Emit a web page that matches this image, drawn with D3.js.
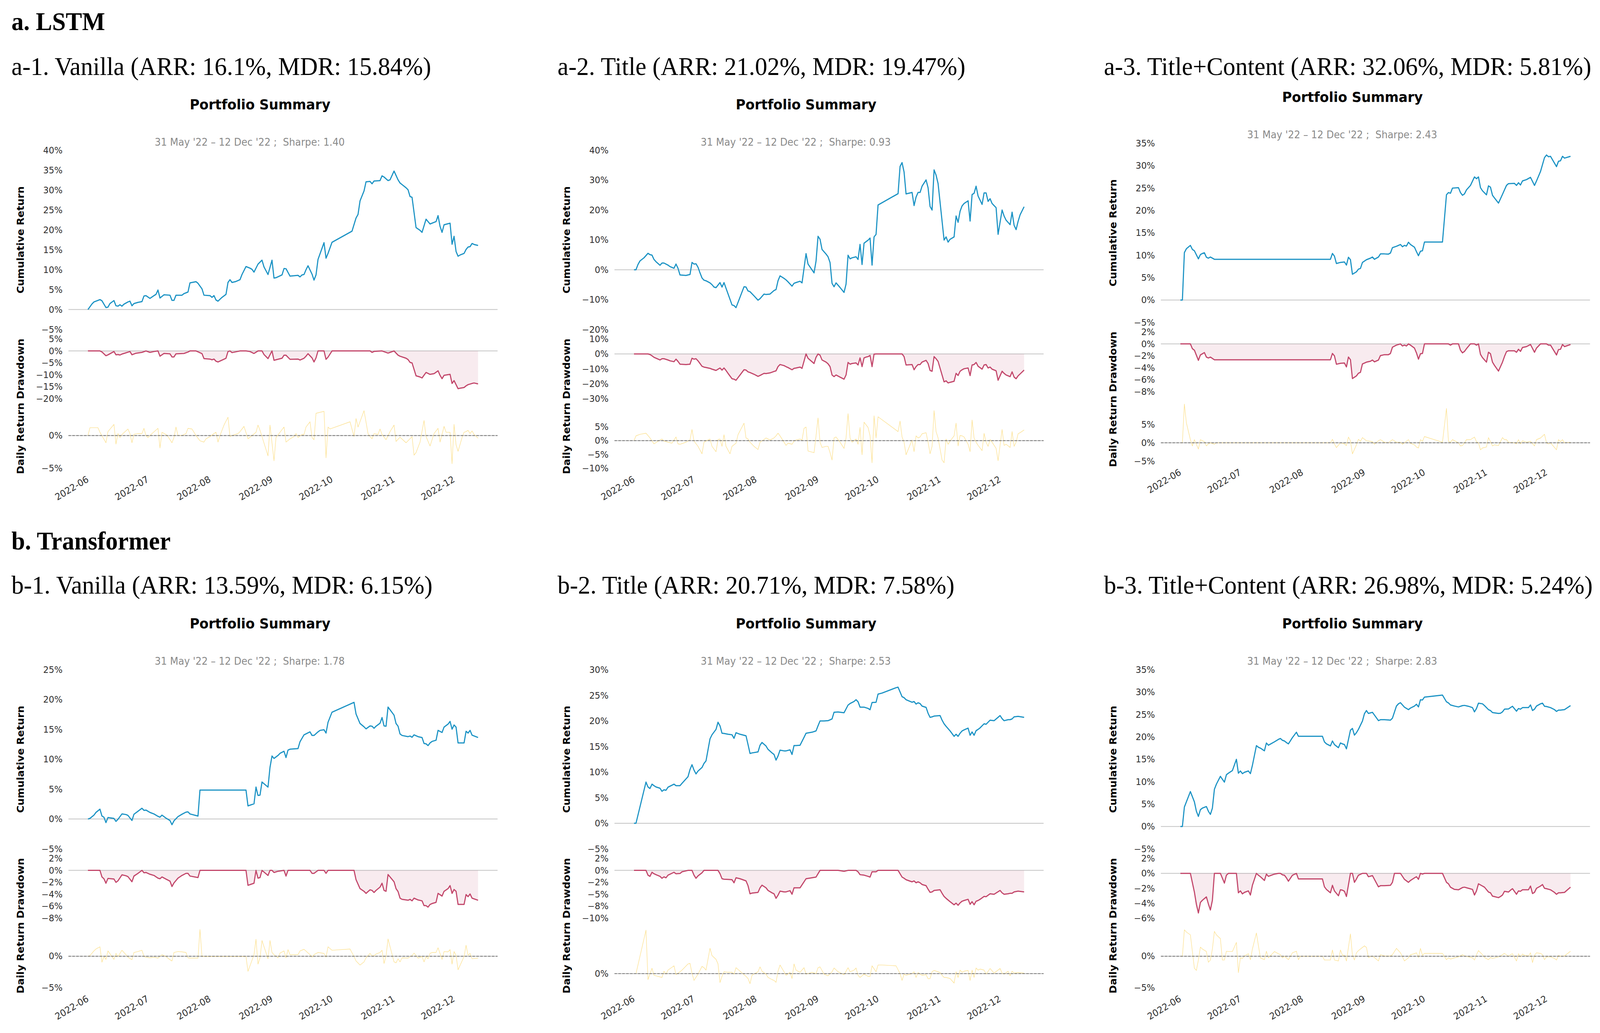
<!DOCTYPE html>
<html><head><meta charset="utf-8">
<script src="https://cdn.jsdelivr.net/npm/d3@7"></script>
<style>html,body{margin:0;padding:0;background:#fff;overflow:hidden}svg{display:block;width:100vw;height:100vh}text{white-space:pre}</style>
</head><body>
<svg id="c" viewBox="0 0 4325 2645" preserveAspectRatio="none"></svg>
<script>
// ---------------- DATA ----------------
const sectionTitles = ["a. LSTM", "b. Transformer"];
const panelTitles = [
  "a-1. Vanilla (ARR: 16.1%, MDR: 15.84%)",
  "a-2. Title (ARR: 21.02%, MDR: 19.47%)",
  "a-3. Title+Content (ARR: 32.06%, MDR: 5.81%)",
  "b-1. Vanilla (ARR: 13.59%, MDR: 6.15%)",
  "b-2. Title (ARR: 20.71%, MDR: 7.58%)",
  "b-3. Title+Content (ARR: 26.98%, MDR: 5.24%)"
];
const sharpes = ["1.40", "0.93", "2.43", "1.78", "2.53", "2.83"];
const startLabel = "31 May '22", endLabel = "12 Dec '22";
const monthTicks = ["2022-06-01","2022-07-01","2022-08-01","2022-09-01","2022-10-01","2022-11-01","2022-12-01"];

const cumTickVals = [[40,35,30,25,20,15,10,5,0,-5],[40,30,20,10,0,-10,-20],[35,30,25,20,15,10,5,0,-5],[25,20,15,10,5,0,-5],[30,25,20,15,10,5,0,-5],[35,30,25,20,15,10,5,0,-5]];
const cumTickLabels = [
  ["40%","35%","30%","25%","20%","15%","10%","5%","0%","−5%"],
  ["40%","30%","20%","10%","0%","−10%","−20%"],
  ["35%","30%","25%","20%","15%","10%","5%","0%","−5%"],
  ["25%","20%","15%","10%","5%","0%","−5%"],
  ["30%","25%","20%","15%","10%","5%","0%","−5%"],
  ["35%","30%","25%","20%","15%","10%","5%","0%","−5%"]];
const ddTickVals = [[5,0,-5,-10,-15,-20],[10,0,-10,-20,-30],[2,0,-2,-4,-6,-8],[2,0,-2,-4,-6,-8],[2.5,0,-2.5,-5,-7.5,-10],[2,0,-2,-4,-6]];
const ddTickLabels = [
  ["5%","0%","−5%","−10%","−15%","−20%"],
  ["10%","0%","−10%","−20%","−30%"],
  ["2%","0%","−2%","−4%","−6%","−8%"],
  ["2%","0%","−2%","−4%","−6%","−8%"],
  ["2%","0%","−2%","−5%","−8%","−10%"],
  ["2%","0%","−2%","−4%","−6%"]];
const dailyTickVals = [[0,-5],[5,0,-5,-10],[5,0,-5],[0,-5],[0],[0,-5]];
const dailyTickLabels = [["0%","−5%"],["5%","0%","−5%","−10%"],["5%","0%","−5%"],["0%","−5%"],["0%"],["0%","−5%"]];
const cumDomains = [[40,-5],[40,-20],[35,-5],[25,-5],[30,-5],[35,-5]];
const ddDomains = [[5,-20],[10,-30],[2,-8],[2,-8],[2.5,-10],[2,-6]];
const dailyDomains = [[4.13,-5],[11.66,-10],[11.2,-5],[4.5,-5],[8.46,-2.6],[4.5,-5]];

// series: [trading day offset from 31 May 2022, value %]
const a1Cum = [[0,0],[2,1.4],[3,1.9],[6,2.5],[7,2.2],[9,0.5],[10,0.6],[11,1.5],[13,2.25],[14,0.95],[15,0.85],[16,1.2],[17,0.85],[18,1.35],[20,1.9],[21,2.1],[22,0.95],[23,1.5],[25,1.8],[27,2.0],[28,3.4],[29,3.5],[31,2.8],[33,3.5],[34,3.8],[35,4.9],[36,2.9],[38,3.7],[41,3.6],[42,2.3],[43,2.3],[44,3.6],[47,3.6],[48,4.0],[50,4.4],[51,6.7],[54,7.0],[55,6.6],[57,5.2],[58,3.6],[61,3.5],[62,3.05],[63,3.5],[64,2.4],[65,2.1],[67,3.05],[69,3.8],[70,6.8],[71,7.5],[72,6.8],[74,7.05],[76,7.5],[77,8.8],[79,10.8],[81,10.4],[82,10.1],[83,9.4],[85,11.4],[87,12.4],[88,10.7],[90,8.8],[92,12.4],[93,7.9],[94,8.0],[97,8.7],[98,10.3],[99,10.25],[101,8.4],[103,8.5],[105,8.6],[106,8.2],[107,8.7],[108,8.8],[109,10.0],[110,11.0],[112,8.9],[113,7.4],[114,8.7],[115,12.6],[118,16.8],[119,12.9],[120,14.1],[122,16.9],[132,19.7],[134,23.0],[135,23.9],[136,27.3],[138,29.8],[139,32.1],[141,32.2],[142,31.6],[143,32.3],[146,32.4],[147,33.6],[148,33.3],[150,32.4],[151,32.6],[153,34.8],[155,32.6],[156,31.8],[157,31.4],[159,30.6],[160,30.1],[161,28.4],[162,28.2],[164,20.6],[166,19.9],[167,19.4],[169,22.7],[171,21.5],[173,21.9],[174,22.1],[175,23.6],[176,20.9],[177,19.4],[178,21.3],[181,21.7],[182,16.4],[183,18.4],[184,14.6],[185,13.4],[186,13.7],[188,14.1],[189,15.1],[190,15.7],[191,15.8],[192,16.6],[193,16.35],[195,16.1]];
const a1Dd = [[0,0],[6,0],[7,-0.4],[9,-2.0],[10,-1.65],[13,-0.25],[14,-1.6],[15,-1.5],[16,-1.7],[17,-1.3],[18,-1.05],[21,-0.25],[22,-1.6],[24,-0.95],[27,-0.6],[29,0],[31,-0.6],[33,-0.25],[35,0],[36,-2.2],[38,-1.05],[41,-1.2],[42,-2.5],[43,-2.5],[44,-1.2],[48,-1.05],[50,-0.45],[51,0],[54,0],[57,-1.1],[58,-3.2],[61,-3.4],[62,-3.7],[63,-3.4],[64,-4.3],[65,-4.6],[69,-3.05],[70,-0.25],[71,0],[72,-0.7],[76,0],[79,0],[81,-0.25],[83,-1.05],[85,0],[87,0],[88,-1.5],[90,-3.2],[92,0],[93,-3.9],[97,-3.05],[98,-1.8],[99,-1.8],[101,-3.5],[105,-3.4],[106,-3.8],[108,-3.05],[109,-2.2],[110,-1.15],[112,-2.9],[113,-4.6],[114,-2.9],[115,0],[118,0],[119,-3.5],[120,-2.6],[122,0],[141,0],[142,-0.6],[143,-0.2],[147,0],[150,-0.9],[151,-0.6],[153,0],[155,-1.75],[156,-2.2],[159,-3.05],[160,-3.6],[161,-4.8],[162,-5.0],[164,-10.4],[166,-10.9],[167,-11.3],[169,-9.0],[171,-9.8],[173,-9.5],[175,-8.3],[176,-10.2],[177,-11.6],[178,-10.2],[181,-9.8],[182,-13.6],[183,-12.4],[185,-15.8],[186,-15.6],[188,-15.3],[189,-14.6],[190,-14.1],[192,-13.6],[193,-13.4],[195,-13.8]];
const a1Daily = [[0,0],[1,1.2],[5,1.2],[6,0.5],[9,-1.1],[10,0.6],[13,1.7],[14,-1.3],[15,0.3],[16,-0.3],[17,0.16],[20,1.0],[21,0.3],[22,-1.1],[23,0.2],[25,0.3],[27,0.3],[28,1.1],[29,0],[30,-0.3],[32,0.3],[35,1.1],[36,-1.9],[37,0.5],[39,0.16],[40,-0.16],[42,-1.1],[43,-0.3],[44,1.3],[45,0],[47,0],[49,0.3],[50,1.1],[52,1.0],[54,0],[56,-0.8],[58,-1.0],[59,-0.5],[61,-0.16],[63,0.3],[64,0.5],[65,-1.0],[66,0],[68,1.6],[70,2.8],[71,-0.16],[72,0],[75,0.3],[76,0.6],[77,1.0],[78,1.4],[80,-0.5],[82,0],[84,0.5],[85,1.6],[86,0.8],[87,-0.16],[90,-3.1],[91,1.6],[93,-3.85],[94,-0.3],[96,0.5],[98,1.3],[99,-1.0],[101,-0.5],[103,-0.16],[104,0.3],[105,-0.3],[107,0.16],[108,0.16],[109,1.3],[111,2.1],[112,-0.3],[113,-0.64],[114,3.4],[118,3.7],[119,-3.4],[120,1.3],[121,1.0],[131,2.1],[133,-0.16],[134,2.6],[135,1.3],[138,3.8],[140,0.3],[141,-0.16],[142,-0.5],[143,0.3],[145,0.16],[146,1.0],[147,0.16],[149,-0.64],[151,0.6],[153,1.6],[154,-0.9],[156,-0.26],[159,-1.1],[162,-0.16],[163,-3.0],[164,-2.6],[166,-1.0],[168,2.3],[169,-0.16],[171,-1.6],[173,0.3],[175,1.1],[176,-1.0],[178,1.4],[179,0.5],[181,0.5],[182,-4.3],[183,1.7],[184,-1.4],[185,-2.4],[187,-0.3],[188,0.5],[189,0.6],[190,0.8],[191,0.3],[192,0.7],[193,0.16],[195,-0.4]];

const a2Cum = [[0,0],[1,0],[2,1.75],[3,2.95],[5,4.0],[7,5.5],[8,5.05],[9,4.9],[10,3.45],[11,2.7],[13,1.5],[14,2.25],[15,2.25],[17,1.55],[18,1.05],[20,0.5],[21,1.9],[22,0.5],[23,-1.75],[26,-1.9],[27,-1.75],[28,-1.6],[29,2.45],[30,1.9],[31,2.0],[32,0.85],[33,-1.05],[34,-2.75],[35,-3.5],[36,-3.7],[38,-4.4],[39,-5.0],[40,-5.8],[41,-6.0],[43,-4.3],[44,-5.8],[45,-4.3],[46,-6.2],[47,-8.05],[49,-11.8],[50,-12.0],[51,-12.7],[53,-9.2],[55,-5.7],[56,-5.8],[57,-7.1],[58,-7.35],[60,-8.75],[62,-10.2],[63,-9.7],[65,-8.15],[66,-8.3],[68,-8.15],[70,-6.95],[71,-6.65],[72,-3.7],[73,-2.05],[75,-2.9],[76,-3.4],[77,-4.05],[79,-5.5],[80,-4.55],[81,-4.3],[83,-3.85],[84,-4.4],[86,5.4],[87,1.9],[90,-1.05],[91,2.9],[92,11.2],[93,10.2],[94,6.8],[96,5.25],[97,4.35],[98,2.4],[99,-4.55],[100,-5.7],[101,-4.4],[103,-5.95],[105,-7.6],[106,-4.8],[107,4.85],[108,3.65],[109,4.0],[111,4.35],[112,3.45],[113,8.5],[114,1.75],[115,8.9],[116,9.4],[117,9.9],[118,10.6],[119,1.55],[120,11.0],[121,11.85],[122,21.7],[132,25.5],[133,34.6],[134,35.9],[135,32.75],[136,25.4],[139,25.9],[140,21.5],[141,24.35],[142,25.9],[143,25.9],[144,28.0],[146,30.1],[147,27.5],[148,21.2],[149,20.0],[150,33.45],[151,31.7],[152,28.9],[155,9.95],[156,11.0],[157,9.25],[158,10.2],[160,11.0],[161,18.0],[162,15.9],[163,19.6],[164,21.4],[165,22.2],[167,23.1],[168,16.3],[169,25.2],[170,25.6],[171,28.0],[172,24.7],[174,21.9],[175,25.75],[176,25.75],[177,22.9],[178,23.8],[179,22.2],[181,20.8],[182,11.85],[184,20.0],[185,18.0],[186,16.6],[188,15.1],[189,19.3],[190,14.9],[191,13.45],[192,16.2],[193,18.4],[195,21.1]];
const a2Dd = [[0,0],[7,0],[8,-0.4],[9,-1.25],[10,-2.25],[13,-4.05],[14,-3.2],[15,-3.2],[17,-4.05],[18,-4.6],[20,-5.2],[21,-3.5],[22,-5.0],[23,-6.85],[26,-7.1],[28,-6.85],[29,-2.9],[30,-3.5],[31,-3.2],[32,-4.6],[33,-6.4],[34,-8.25],[35,-8.8],[36,-9.1],[38,-9.65],[39,-10.2],[41,-11.05],[43,-9.4],[44,-10.8],[45,-9.4],[46,-11.05],[47,-13.0],[49,-16.6],[50,-16.9],[51,-17.6],[53,-14.1],[55,-10.6],[56,-10.8],[57,-12.0],[58,-12.45],[60,-13.6],[62,-15.0],[63,-14.4],[65,-13.0],[66,-13.15],[68,-12.7],[70,-11.75],[71,-11.3],[72,-8.5],[73,-7.1],[75,-7.8],[76,-8.5],[77,-9.1],[79,-10.6],[80,-9.65],[81,-9.4],[83,-8.8],[84,-9.65],[86,0],[87,-2.9],[90,-6.4],[91,-2.25],[92,0],[93,-0.85],[94,-4.05],[96,-5.45],[97,-6.6],[98,-8.5],[99,-14.1],[100,-15.2],[101,-14.1],[103,-15.5],[105,-16.9],[106,-14.1],[107,-5.7],[108,-6.85],[109,-6.4],[111,-6.0],[112,-7.4],[113,-2.65],[114,-8.5],[115,-2.65],[116,-2.1],[117,-1.8],[118,-1.0],[119,-8.5],[120,-0.15],[121,0],[134,0],[135,-1.8],[136,-7.4],[139,-7.1],[140,-10.6],[141,-8.5],[142,-7.1],[143,-7.1],[144,-5.45],[146,-4.3],[147,-6.4],[148,-11.05],[149,-11.6],[150,-1.8],[151,-3.2],[152,-5.0],[155,-18.7],[156,-18.0],[157,-19.4],[158,-19.0],[160,-18.3],[161,-13.0],[162,-14.4],[163,-11.6],[164,-10.6],[165,-9.9],[167,-9.4],[168,-14.5],[169,-7.4],[170,-7.1],[171,-5.7],[172,-8.25],[174,-10.2],[175,-7.4],[176,-7.1],[177,-9.4],[178,-8.8],[179,-10.2],[181,-11.3],[182,-17.6],[184,-11.6],[185,-13.0],[186,-14.1],[188,-15.2],[189,-12.0],[190,-15.5],[191,-16.6],[192,-14.7],[193,-13.4],[195,-10.8]];
const a2Daily = [[0,0],[1,1.75],[3,2.3],[6,2.7],[8,1.0],[10,-1.15],[13,0.25],[14,0.6],[15,-0.15],[17,-0.55],[19,-0.9],[21,1.35],[22,-1.15],[23,-1.3],[26,-0.55],[28,0.25],[29,4.05],[30,-0.15],[32,-2.05],[34,-4.75],[35,-0.55],[36,-0.15],[38,0.6],[39,-2.05],[41,-4.0],[42,0.4],[43,0.6],[44,-2.05],[45,2.15],[46,-2.05],[48,-4.75],[49,-2.05],[51,-0.9],[52,2.15],[55,6.35],[56,1.0],[57,0.6],[58,-0.55],[60,-2.05],[62,-3.2],[63,-0.55],[65,0.4],[66,1.0],[68,0.25],[70,1.0],[71,1.75],[72,2.7],[73,1.75],[75,-0.55],[76,-1.7],[77,-0.9],[79,-1.3],[80,-0.15],[81,0.25],[83,0.6],[84,0.25],[85,4.45],[86,4.95],[87,-3.75],[90,-4.35],[91,1.75],[92,8.25],[93,-0.55],[94,-2.45],[96,-2.05],[97,-2.05],[98,-4.35],[99,-7.0],[100,1.0],[101,1.35],[103,-0.55],[105,-2.8],[106,1.0],[107,9.8],[108,1.0],[109,-0.55],[111,0.6],[112,-1.3],[113,4.8],[114,-5.1],[115,6.7],[117,4.8],[118,1.75],[119,-8.0],[120,9.0],[121,1.0],[122,8.65],[132,3.3],[133,7.1],[134,1.35],[135,-0.55],[136,-5.1],[139,0.25],[140,-3.95],[141,1.75],[142,1.0],[143,1.35],[144,2.5],[146,2.9],[147,-0.55],[148,-4.75],[149,-2.05],[150,10.9],[151,3.3],[152,1.0],[154,-7.0],[155,-8.0],[156,0.6],[157,-1.3],[158,-0.15],[160,1.75],[161,6.35],[162,-1.9],[163,1.9],[164,1.75],[165,1.35],[167,-1.3],[168,-3.95],[169,7.5],[170,1.0],[171,-0.55],[172,-1.7],[174,-3.6],[175,2.65],[176,-0.55],[177,-2.05],[178,0.4],[179,-0.55],[181,-2.8],[182,-7.25],[184,4.05],[185,-1.7],[186,-1.3],[188,-2.45],[189,3.3],[190,-2.05],[191,-0.55],[192,2.5],[193,2.9],[195,3.9]];

const a3Cum = [[0,0],[1,0],[2,10.6],[3,11.45],[5,12.2],[6,11.3],[7,11.0],[9,9.2],[10,10.15],[11,10.4],[12,10.55],[13,9.55],[14,9.35],[15,9.6],[17,9.1],[75,9.1],[76,10.4],[77,9.8],[78,8.15],[80,8.4],[82,8.5],[83,7.8],[84,9.55],[85,9.0],[86,5.75],[88,6.3],[89,6.9],[90,7.05],[91,8.4],[93,9.0],[95,9.35],[96,9.6],[97,9.1],[99,9.6],[100,10.3],[102,10.3],[104,10.25],[105,10.5],[106,11.7],[108,12.0],[110,12.4],[111,11.9],[112,12.2],[113,12.05],[114,12.9],[115,12.4],[117,11.8],[118,10.8],[119,9.9],[120,10.9],[121,11.0],[122,12.95],[131,12.95],[133,23.5],[134,24.0],[135,23.85],[136,25.0],[139,25.1],[140,24.0],[141,23.4],[142,23.7],[143,24.6],[145,25.6],[147,27.5],[148,27.1],[149,27.5],[150,25.1],[151,24.4],[153,23.5],[154,25.5],[155,25.2],[156,23.4],[157,22.8],[159,21.65],[161,23.6],[162,24.6],[163,25.6],[164,26.0],[167,26.05],[168,25.6],[169,26.2],[170,25.7],[171,26.6],[173,26.9],[175,27.4],[177,25.6],[178,26.6],[180,28.7],[182,31.8],[183,32.4],[184,32.0],[185,32.1],[188,29.8],[189,31.0],[190,31.1],[191,32.1],[192,31.7],[195,32.1]];
const a3Dd = [[0,0],[5,0],[6,-0.8],[7,-1.05],[9,-2.75],[10,-1.85],[11,-1.65],[12,-1.45],[13,-2.2],[14,-2.35],[15,-2.2],[17,-2.65],[75,-2.65],[76,-1.6],[77,-2.0],[78,-3.4],[80,-3.25],[82,-3.2],[83,-3.85],[84,-2.2],[85,-2.65],[86,-5.8],[88,-5.35],[89,-4.9],[90,-4.75],[91,-3.35],[93,-3.05],[95,-2.9],[96,-2.7],[97,-3.0],[99,-2.7],[100,-1.95],[102,-1.8],[104,-1.8],[105,-1.6],[106,-0.55],[108,-0.2],[110,0],[111,-0.35],[112,-0.2],[113,-0.35],[114,0],[115,-0.2],[117,-0.7],[118,-1.5],[119,-2.55],[120,-1.65],[121,-1.6],[122,0],[134,0],[135,-0.2],[136,0],[139,0],[140,-1.05],[141,-1.5],[142,-1.25],[143,-0.8],[145,0],[147,0],[148,-0.2],[149,0],[150,-1.75],[151,-2.3],[153,-3.05],[154,-1.4],[155,-1.65],[156,-3.05],[157,-3.6],[159,-4.55],[161,-3.05],[162,-2.1],[163,-1.3],[164,-1.15],[167,-1.15],[168,-1.4],[169,-0.9],[170,-1.25],[171,-0.6],[173,-0.45],[175,-0.1],[177,-1.4],[178,-0.7],[180,0],[183,0],[184,-0.2],[185,-0.2],[188,-1.85],[189,-0.95],[190,-0.9],[191,-0.1],[192,-0.45],[195,-0.1]];
const a3Daily = [[0,0],[1,0],[2,10.5],[3,5.4],[5,0.85],[6,-0.85],[7,0.85],[9,-1.7],[10,0.85],[11,0.55],[12,0.3],[13,-0.85],[14,-0.3],[15,0],[17,-0.4],[18,0],[75,0],[76,0.95],[77,-0.3],[78,-1.3],[80,0],[82,-0.3],[83,-0.75],[84,1.55],[85,0.55],[86,-3.0],[88,-0.55],[89,0.95],[90,0.4],[91,1.4],[93,0.55],[95,0.4],[96,0.3],[97,-0.4],[99,0.55],[100,0.85],[102,0.15],[104,0],[106,0.85],[108,0.15],[110,0.15],[111,-0.4],[112,0],[114,0.85],[115,-0.15],[117,-0.55],[118,-1.15],[119,-1.4],[120,0.85],[121,0.4],[122,1.7],[131,0.15],[133,9.3],[134,0.4],[135,0.15],[136,0.85],[139,0],[140,-0.85],[141,-0.75],[142,0],[143,0.85],[145,0.85],[147,1.55],[148,0.3],[149,0],[150,-1.9],[151,-1.4],[153,-1.15],[154,1.4],[155,0.3],[156,-0.85],[157,-0.55],[159,-0.75],[161,1.4],[162,0.85],[163,0.85],[164,0.15],[167,0],[168,-0.3],[169,0.85],[170,-0.3],[171,0.55],[173,0.15],[175,0.4],[177,-0.85],[178,0.85],[180,1.3],[182,2.3],[183,0],[184,-0.3],[185,0],[188,-1.9],[189,0.85],[190,0.3],[191,0.85],[192,0],[195,0.15]];

const b1Cum = [[0,0],[1,0.1],[3,0.65],[4,1.1],[6,1.65],[7,0.5],[8,0.3],[9,-0.6],[10,0.25],[13,0.1],[14,-0.4],[15,-0.05],[17,0.85],[19,0.75],[20,0.6],[22,-0.25],[23,0.8],[25,1.3],[27,1.8],[28,1.45],[29,1.5],[31,1.1],[33,0.85],[35,0.45],[36,0.3],[37,0.65],[39,0.15],[41,-0.25],[42,-0.95],[43,-0.3],[45,0.4],[47,0.8],[49,1.15],[50,1.2],[51,0.85],[55,0.5],[56,4.85],[79,4.85],[80,2.2],[83,2.55],[84,5.35],[85,3.95],[86,4.0],[87,6.2],[90,5.35],[91,8.65],[92,10.55],[93,10.15],[95,10.65],[96,11.0],[98,11.35],[99,10.3],[100,11.55],[101,11.7],[105,11.8],[106,12.95],[108,14.1],[111,14.6],[112,14.0],[113,14.0],[115,14.6],[116,14.85],[118,14.95],[119,14.4],[120,16.2],[122,17.9],[133,19.55],[134,17.6],[136,16.0],[138,15.45],[139,15.1],[141,15.6],[142,15.55],[143,15.2],[144,15.55],[146,16.05],[147,17.0],[148,15.6],[149,15.55],[150,18.75],[153,17.4],[154,16.0],[155,15.55],[156,14.25],[157,14.0],[160,13.8],[161,13.9],[162,13.7],[163,14.1],[165,13.8],[167,13.65],[168,12.65],[169,12.6],[170,12.3],[171,12.75],[172,13.0],[174,13.2],[175,14.85],[177,14.5],[178,15.4],[180,15.9],[181,16.35],[182,15.05],[183,15.75],[184,15.4],[185,12.75],[188,12.75],[189,14.7],[190,14.4],[191,14.85],[192,14.05],[195,13.65]];
const b1Dd = [[0,0],[6,0],[7,-1.1],[8,-1.4],[9,-2.15],[10,-1.35],[13,-1.45],[14,-2.0],[15,-1.75],[17,-0.75],[19,-0.9],[20,-1.05],[22,-1.9],[23,-0.95],[25,-0.5],[27,0],[28,-0.4],[29,-0.35],[31,-0.65],[33,-0.85],[35,-1.3],[36,-1.4],[37,-1.1],[39,-1.45],[41,-1.8],[42,-2.7],[43,-2.1],[45,-1.3],[47,-0.85],[49,-0.5],[50,-0.5],[51,-0.95],[55,-1.2],[56,0],[79,0],[80,-2.5],[83,-2.15],[84,0],[85,-1.3],[86,-1.2],[87,0],[90,-0.85],[91,0],[92,0],[93,-0.35],[95,-0.15],[98,0],[99,-0.95],[100,0],[111,0],[112,-0.5],[113,-0.5],[115,0],[118,0],[119,-0.5],[120,0],[133,0],[134,-1.55],[136,-3.05],[138,-3.5],[139,-3.85],[141,-3.25],[142,-3.35],[143,-3.7],[144,-3.35],[146,-2.8],[147,-2.15],[148,-3.35],[149,-3.5],[150,-0.7],[153,-1.9],[154,-3.05],[155,-3.55],[156,-4.65],[157,-4.85],[160,-5.0],[161,-4.85],[162,-5.1],[163,-4.65],[165,-4.95],[167,-5.1],[168,-5.9],[169,-5.9],[170,-6.15],[171,-5.7],[172,-5.55],[174,-5.35],[175,-3.85],[177,-4.3],[178,-3.5],[180,-3.05],[181,-2.55],[182,-3.85],[183,-3.2],[184,-3.5],[185,-5.7],[188,-5.7],[189,-4.05],[190,-4.4],[191,-3.95],[192,-4.65],[195,-5.0]];
const b1Daily = [[0,0],[1,0.1],[3,0.85],[4,1.15],[6,1.5],[7,-0.95],[8,-0.05],[9,-0.5],[10,0.85],[13,-0.5],[14,0.45],[15,-0.05],[17,0.95],[19,0.25],[20,-0.15],[22,-0.55],[23,0.6],[25,0.75],[27,0.95],[28,-0.05],[29,-0.15],[31,-0.25],[33,-0.15],[35,-0.3],[37,0.25],[39,-0.05],[41,-0.55],[42,-0.75],[43,0.6],[45,0.75],[47,0.7],[49,0.6],[50,-0.25],[51,-0.3],[55,-0.3],[56,4.25],[57,-0.05],[79,-0.05],[80,-2.4],[83,0.25],[84,2.7],[85,-1.25],[86,-0.25],[87,2.5],[90,-0.4],[91,2.5],[92,0.6],[93,0.25],[95,-0.25],[96,0.5],[98,0.85],[99,-0.25],[100,1.05],[101,0.25],[105,0.25],[106,0.85],[108,1.1],[111,0.25],[112,-0.15],[113,0.25],[115,0.6],[118,0.45],[119,-0.15],[120,1.5],[122,0.95],[131,1.15],[133,-0.05],[134,-0.75],[136,-1.4],[138,-0.9],[139,-0.25],[141,0.45],[142,0.05],[143,0.1],[144,0.35],[146,0.6],[147,0.95],[148,-1.15],[149,0.05],[150,2.75],[153,-0.9],[154,-1.05],[155,-0.4],[156,-0.9],[157,-0.25],[160,-0.3],[161,-0.05],[162,0.1],[163,0.5],[165,-0.3],[167,-0.05],[168,-0.9],[169,-0.05],[170,-0.4],[171,0.45],[172,0.6],[174,0.6],[175,1.35],[177,-0.5],[178,0.75],[180,0.7],[181,1.05],[182,-1.25],[183,0.75],[184,0.15],[185,-2.15],[188,-0.05],[189,1.75],[190,0.15],[191,0.45],[192,-0.4],[195,-0.3]];

const b2Cum = [[0,0],[1,0],[6,8.05],[7,7.1],[8,6.8],[9,7.65],[10,7.35],[11,7.1],[13,6.85],[14,6.25],[15,6.55],[16,6.45],[17,7.05],[20,7.65],[21,7.35],[23,7.35],[24,7.8],[27,9.1],[28,10.5],[29,11.45],[30,10.4],[31,9.65],[32,10.2],[34,10.9],[35,11.7],[36,12.2],[38,16.5],[39,17.3],[41,18.35],[42,19.75],[43,19.05],[44,17.6],[45,17.55],[47,17.4],[49,17.3],[50,16.6],[51,17.7],[53,17.4],[56,17.1],[57,15.4],[58,13.65],[59,13.75],[62,13.95],[63,15.25],[64,15.8],[66,15.1],[67,14.45],[69,13.75],[70,13.45],[71,12.35],[72,13.15],[73,14.3],[75,14.15],[76,14.15],[78,14.35],[79,13.45],[80,15.2],[81,15.2],[83,15.25],[85,16.8],[86,17.6],[89,17.8],[91,18.05],[92,19.05],[93,20.0],[95,20.0],[97,20.05],[99,20.4],[100,21.7],[102,21.75],[105,21.6],[107,23.1],[108,23.4],[110,23.8],[111,24.15],[112,23.75],[113,22.7],[115,22.7],[117,22.45],[118,22.2],[119,23.6],[121,23.65],[122,25.25],[124,25.45],[131,26.5],[132,26.6],[134,24.75],[135,24.55],[136,24.15],[139,23.65],[140,23.8],[141,23.3],[142,23.55],[143,23.4],[144,22.9],[146,22.65],[147,21.5],[148,20.7],[149,20.8],[150,20.95],[153,21.05],[154,20.15],[155,19.45],[156,18.95],[158,18.05],[160,17.0],[161,17.4],[162,17.0],[163,17.6],[164,18.05],[165,18.25],[167,18.6],[168,17.2],[169,17.85],[170,17.2],[171,18.1],[172,18.35],[173,18.65],[175,19.45],[176,19.35],[178,20.15],[180,20.05],[183,21.05],[184,20.45],[185,20.05],[187,20.25],[188,20.25],[189,20.4],[190,20.8],[192,20.9],[195,20.7]];
const b2Dd = [[0,0],[1,0],[6,0],[7,-1.0],[8,-1.25],[9,-0.4],[10,-0.7],[11,-0.9],[13,-1.25],[14,-1.65],[15,-1.35],[16,-1.55],[17,-1.0],[20,-0.4],[21,-0.7],[23,-0.65],[24,-0.3],[27,0],[29,0],[30,-1.0],[31,-1.65],[32,-1.15],[34,-0.5],[35,0],[42,0],[43,-0.7],[44,-1.75],[45,-1.85],[47,-1.9],[49,-1.95],[50,-2.6],[51,-1.55],[53,-1.75],[56,-2.2],[57,-3.2],[58,-4.9],[59,-4.75],[62,-4.6],[63,-3.65],[64,-3.1],[66,-3.65],[67,-4.2],[69,-4.7],[70,-4.9],[71,-5.85],[72,-5.2],[73,-4.35],[75,-4.5],[76,-4.5],[78,-4.25],[79,-5.0],[80,-3.65],[81,-3.65],[83,-3.65],[85,-2.4],[86,-1.75],[89,-1.55],[91,-1.4],[92,-0.7],[93,0],[99,0],[100,0],[102,0],[105,-0.2],[107,0],[111,0],[112,-0.3],[113,-0.9],[115,-1.0],[117,-1.25],[118,-1.4],[119,-0.3],[121,-0.3],[122,0],[132,0],[134,-1.4],[135,-1.65],[136,-1.95],[139,-2.4],[140,-2.2],[141,-2.6],[142,-2.4],[143,-2.6],[144,-2.95],[146,-3.2],[147,-3.95],[148,-4.6],[149,-4.5],[150,-4.2],[153,-4.05],[154,-4.8],[155,-5.45],[156,-5.85],[158,-6.55],[160,-7.2],[161,-6.85],[162,-7.3],[163,-6.8],[164,-6.45],[165,-6.3],[167,-6.05],[168,-7.1],[169,-6.55],[170,-7.2],[171,-6.45],[172,-6.3],[173,-6.05],[175,-5.45],[176,-5.5],[178,-4.9],[180,-5.0],[183,-4.2],[184,-4.7],[185,-5.0],[187,-4.9],[188,-4.8],[189,-4.8],[190,-4.5],[192,-4.35],[195,-4.5]];
const b2Daily = [[0,0],[1,0],[6,8.05],[7,-1.1],[9,1.0],[10,-0.3],[11,-0.4],[14,-0.7],[15,0.45],[16,-0.1],[17,0.65],[20,1.45],[21,-0.2],[23,0.35],[24,0.65],[27,1.8],[28,1.9],[29,0.1],[30,-1.25],[32,-0.1],[34,1.35],[35,1.1],[36,0.65],[38,4.7],[39,3.35],[41,2.65],[42,1.8],[43,-1.65],[44,-0.5],[45,0.35],[47,0.25],[49,0.25],[50,-0.1],[51,1.1],[53,0.45],[56,-0.5],[57,-0.9],[58,-1.85],[59,-0.3],[62,0.35],[63,1.25],[64,0.45],[66,-0.1],[67,-0.7],[69,-1.1],[70,-1.25],[71,-1.6],[72,0.45],[73,1.6],[75,0.35],[76,-0.3],[78,0.25],[79,-0.9],[80,1.8],[81,0.65],[83,0.25],[85,1.1],[86,-0.1],[89,0.25],[91,0],[92,1.1],[93,1.25],[95,-0.1],[97,-0.4],[99,0.35],[100,1.05],[102,0.35],[105,-0.2],[107,1.1],[108,0.35],[110,0.65],[111,1.05],[112,-0.3],[113,-0.7],[115,-0.1],[117,-0.5],[118,-0.5],[119,1.45],[121,0.35],[122,1.6],[124,1.6],[131,1.45],[133,0],[134,-1.25],[135,-0.1],[136,-0.3],[139,0],[140,0.35],[141,-0.7],[142,0.2],[143,-0.1],[144,-0.3],[146,-0.2],[147,-0.95],[148,-0.9],[149,0.35],[150,0.6],[153,0.2],[154,-0.3],[155,-0.7],[156,-0.7],[158,-0.9],[160,-1.75],[161,0.35],[162,-0.7],[163,0.65],[164,0.25],[165,0.45],[167,0.6],[168,-1.25],[169,0.65],[170,-0.7],[171,1.05],[172,0.65],[173,0.85],[175,0.65],[176,-0.1],[178,0.95],[180,0.1],[183,0.95],[184,0.1],[185,-0.1],[187,0.45],[188,-0.4],[189,0.45],[190,0.1],[192,0.2],[195,0.1]];

const b3Cum = [[0,0],[1,0],[2,4.35],[3,5.5],[4,6.65],[5,7.8],[7,5.5],[8,3.4],[9,2.25],[10,3.75],[11,4.1],[13,4.45],[14,3.4],[15,2.7],[16,4.1],[17,8.3],[18,9.45],[20,11.2],[22,9.9],[23,11.55],[24,11.9],[26,12.5],[28,15.0],[29,11.9],[30,12.4],[31,11.8],[32,12.1],[34,12.4],[35,11.8],[36,13.65],[38,18.05],[39,17.7],[40,17.5],[42,16.9],[43,18.65],[44,18.15],[47,18.9],[49,19.45],[50,19.65],[51,19.25],[52,19.1],[53,18.75],[54,18.45],[56,19.85],[58,21.05],[59,20.15],[71,20.15],[72,18.9],[73,18.45],[75,18.0],[76,19.1],[77,18.3],[79,17.6],[80,18.65],[81,18.45],[82,18.3],[83,17.35],[85,21.5],[86,21.9],[87,20.4],[88,20.95],[89,21.7],[91,23.55],[92,25.2],[93,25.9],[94,25.25],[96,25.5],[99,23.65],[100,23.85],[102,23.85],[105,23.75],[106,24.2],[108,26.9],[109,27.4],[110,27.65],[112,26.65],[114,26.1],[115,26.45],[117,26.9],[118,27.3],[119,26.7],[120,28.3],[121,28.25],[122,28.9],[131,29.35],[133,27.85],[134,27.6],[135,27.15],[137,26.9],[139,26.7],[141,27.0],[142,27.05],[144,26.85],[146,26.55],[147,25.6],[148,26.35],[149,27.55],[151,27.4],[152,27.0],[154,26.1],[155,25.9],[156,25.45],[159,25.25],[160,25.3],[161,25.6],[162,26.2],[164,26.25],[165,26.55],[166,26.85],[168,25.75],[169,26.35],[170,26.2],[171,26.55],[172,26.55],[174,26.55],[175,27.15],[176,25.9],[177,26.2],[178,26.9],[180,27.4],[181,27.55],[182,26.85],[183,26.8],[185,26.55],[187,26.1],[188,25.7],[189,26.0],[190,26.0],[192,26.1],[195,27.0]];
const b3Dd = [[0,0],[5,0],[7,-2.5],[8,-4.15],[9,-5.3],[10,-3.9],[11,-3.6],[13,-3.15],[14,-4.1],[15,-4.9],[16,-3.6],[17,0],[20,0],[21,-0.65],[22,-1.3],[23,-0.25],[24,0],[28,0],[29,-2.6],[30,-2.35],[31,-2.75],[32,-2.55],[34,-2.35],[35,-2.9],[36,-1.6],[38,0],[39,-0.25],[40,-0.45],[42,-0.95],[43,-0.1],[44,-0.4],[47,-0.1],[49,0],[50,0],[51,-0.2],[52,-0.25],[53,-0.6],[54,-1.05],[56,-0.25],[58,0],[59,-0.75],[71,-0.75],[72,-1.8],[73,-2.15],[75,-2.6],[76,-1.6],[77,-2.35],[79,-3.0],[80,-2.2],[81,-2.25],[82,-2.4],[83,-3.1],[85,0],[86,0],[87,-1.2],[88,-0.75],[89,-0.25],[91,0],[93,0],[94,-0.45],[96,-0.3],[99,-1.8],[100,-1.65],[102,-1.65],[105,-1.6],[106,-1.2],[107,0],[110,0],[112,-0.8],[114,-1.2],[115,-0.95],[117,-0.6],[118,-0.45],[119,-0.8],[120,0],[121,-0.1],[122,0],[131,0],[133,-1.2],[134,-1.4],[135,-1.85],[137,-2.15],[139,-2.2],[141,-1.9],[142,-1.85],[144,-2.0],[146,-2.15],[147,-2.9],[148,-2.35],[149,-1.4],[151,-1.7],[152,-1.85],[154,-2.5],[155,-2.6],[156,-3.05],[159,-3.25],[160,-3.1],[161,-2.9],[162,-2.4],[164,-2.5],[165,-2.25],[166,-2.05],[168,-2.8],[169,-2.35],[170,-2.4],[171,-2.2],[172,-2.2],[174,-2.2],[175,-1.7],[176,-2.7],[177,-2.55],[178,-2.0],[180,-1.7],[181,-1.5],[182,-2.0],[183,-2.05],[185,-2.2],[187,-2.55],[188,-2.8],[189,-2.6],[190,-2.6],[192,-2.55],[195,-1.85]];
const b3Daily = [[0,0],[1,0],[2,4.2],[3,3.85],[5,3.4],[7,-1.9],[8,-2.25],[9,-0.6],[10,1.45],[11,1.15],[13,0.75],[14,-0.95],[15,-0.6],[16,1.15],[17,3.95],[18,3.4],[20,2.8],[21,-0.6],[22,-0.6],[23,0.8],[24,0.75],[26,0.75],[28,2.2],[29,-2.6],[30,-0.25],[31,-0.35],[32,0.05],[34,0.4],[35,-0.55],[36,1.15],[38,3.7],[39,1.7],[40,-0.25],[42,-0.55],[43,0.8],[44,-0.25],[47,0.75],[49,0.4],[50,0.25],[51,-0.25],[52,0],[53,-0.25],[54,-0.55],[56,0.55],[58,0.8],[59,-0.55],[60,0],[71,0],[72,-0.6],[73,-0.6],[75,-0.6],[76,1.0],[77,-0.6],[79,-0.75],[80,1.0],[81,0.15],[82,0.15],[83,-0.75],[85,3.55],[86,0.15],[87,-0.6],[88,0.55],[89,0.9],[91,1.4],[92,1.65],[93,1.4],[94,-0.2],[96,0.05],[99,-0.75],[100,0.25],[102,0.05],[105,0.05],[106,0.25],[108,1.25],[109,0.9],[110,0.55],[112,-0.75],[114,-0.25],[115,0.25],[117,0.4],[118,0.55],[119,-0.2],[120,1.25],[121,0.15],[122,0.45],[131,0.45],[133,-0.55],[134,-0.25],[135,-0.45],[137,-0.25],[139,-0.1],[141,0.25],[142,0.05],[144,-0.1],[146,-0.25],[147,-0.6],[148,0.25],[149,0.9],[151,0.25],[152,-0.2],[154,-0.55],[155,-0.2],[156,-0.35],[159,-0.1],[160,0.05],[161,0.25],[162,0.45],[164,0],[165,0.25],[166,0.4],[168,-0.75],[169,0.4],[170,-0.1],[171,0.35],[172,0.15],[174,0.05],[175,0.55],[176,-1.0],[177,0.15],[178,0.55],[180,0.45],[181,0.25],[182,-0.55],[183,-0.1],[185,-0.1],[187,-0.35],[188,-0.6],[189,0.15],[190,0],[192,0.05],[195,0.8]];

const cumSeries = [a1Cum, a2Cum, a3Cum, b1Cum, b2Cum, b3Cum];
const ddSeries = [a1Dd, a2Dd, a3Dd, b1Dd, b2Dd, b3Dd];
const dailySeries = [a1Daily, a2Daily, a3Daily, b1Daily, b2Daily, b3Daily];

// ---------------- RENDER ----------------
const W = 4325, H = 2645;
const BASE = new Date(2022, 4, 31);
const toDate = d => d3.timeDay.offset(BASE, d);
const SANS = "'DejaVu Sans', Verdana, sans-serif";
const SERIF = "'Liberation Serif', 'Times New Roman', serif";
const C = { blue: "#1a92c4", red: "#c2466a", fill: "#c2466a", yellow: "#fbdc7e", silver: "#c4c4c4", dash: "#7a7a7a", tick: "#2e2e2e", sub: "#8a8a8a" };

const svg = d3.select("#c");
svg.append("rect").attr("width", W).attr("height", H).attr("fill", "#fff");

[[31, 77], [31, 1407]].forEach((p, i) => {
  svg.append("text").attr("x", p[0]).attr("y", p[1]).attr("font-family", SERIF)
    .attr("font-weight", "bold").attr("font-size", 66).attr("fill", "#000").text(sectionTitles[i]);
});

const colX = [0, 1476, 2953];
const titleX = [31, 1507, 2984];

panelTitles.forEach((title, i) => {
  const row = Math.floor(i / 3), col = i % 3;
  const dx = colX[col];
  const dyT = row ? 1328 : 0;
  const dyH = row ? 1329 : (col === 2 ? -19 : 0);
  const dyC = row ? 1330 : (col === 2 ? -18 : 0);
  const g = svg.append("g");

  g.append("text").attr("x", titleX[col]).attr("y", 192 + dyT).attr("font-family", SERIF)
    .attr("font-size", 66.5).attr("fill", "#000").text(title);
  g.append("text").attr("x", 703 + dx).attr("y", 280 + dyH).attr("text-anchor", "middle")
    .attr("font-family", SANS).attr("font-weight", "bold").attr("font-size", 36).attr("fill", "#000")
    .text("Portfolio Summary");
  g.append("text").attr("x", 675 + dx).attr("y", 373 + dyH).attr("text-anchor", "middle")
    .attr("font-family", SANS).attr("font-size", 26).attr("fill", C.sub)
    .text(startLabel + " – " + endLabel + " ;  Sharpe: " + sharpes[i]);

  const x0 = 185 + dx, x1 = 1345 + dx;
  const x = d3.scaleTime()
    .domain([d3.timeHour.offset(BASE, -234), d3.timeHour.offset(BASE, 4914)])
    .range([x0, x1]);

  const frames = [
    [385 + dyC, 843.5 + dyC],
    [868 + dyC, 1021 + dyC],
    [1046 + dyC, 1199 + dyC]
  ];
  const yC = d3.scaleLinear().domain(cumDomains[i]).range(frames[0]);
  const yD = d3.scaleLinear().domain(ddDomains[i]).range(frames[1]);
  const yR = d3.scaleLinear().domain(dailyDomains[i]).range(frames[2]);

  const yAxis = (scale, vals, labels) => {
    const a = g.append("g").attr("transform", `translate(${x0},0)`)
      .call(d3.axisLeft(scale).tickValues(vals).tickFormat((d, k) => labels[k]).tickSize(0).tickPadding(16));
    a.select(".domain").remove();
    a.selectAll("text").attr("font-family", SANS).attr("font-size", 23.5).attr("fill", C.tick);
  };
  yAxis(yC, cumTickVals[i], cumTickLabels[i]);
  yAxis(yD, ddTickVals[i], ddTickLabels[i]);
  yAxis(yR, dailyTickVals[i], dailyTickLabels[i]);

  ["Cumulative Return", "Drawdown", "Daily Return"].forEach((lab, k) => {
    const cy = (frames[k][0] + frames[k][1]) / 2;
    g.append("text").attr("transform", `translate(${64.5 + dx},${cy}) rotate(-90)`)
      .attr("text-anchor", "middle").attr("font-family", SANS).attr("font-weight", "bold")
      .attr("font-size", 26).attr("fill", "#000").text(lab);
  });

  const hline = (yy, color, dash) => {
    const l = g.append("line").attr("x1", x0).attr("x2", x1).attr("y1", yy).attr("y2", yy)
      .attr("stroke", color).attr("stroke-width", 2);
    if (dash) l.attr("stroke-dasharray", dash);
  };

  hline(yC(0), C.silver);
  g.append("path").datum(cumSeries[i]).attr("fill", "none").attr("stroke", C.blue)
    .attr("stroke-width", 3).attr("stroke-linejoin", "round")
    .attr("d", d3.line().x(d => x(toDate(d[0]))).y(d => yC(d[1])));

  hline(yD(0), C.silver);
  g.append("path").datum(ddSeries[i]).attr("fill", C.fill).attr("fill-opacity", 0.11)
    .attr("d", d3.area().x(d => x(toDate(d[0]))).y0(yD(0)).y1(d => yD(d[1])));
  g.append("path").datum(ddSeries[i]).attr("fill", "none").attr("stroke", C.red)
    .attr("stroke-width", 3).attr("stroke-linejoin", "round")
    .attr("d", d3.line().x(d => x(toDate(d[0]))).y(d => yD(d[1])));

  hline(yR(0), C.silver);
  g.append("path").datum(dailySeries[i]).attr("fill", "none").attr("stroke", C.yellow)
    .attr("stroke-opacity", 0.85).attr("stroke-width", 1.4).attr("stroke-linejoin", "round")
    .attr("d", d3.line().x(d => x(toDate(d[0]))).y(d => yR(d[1])));
  hline(yR(0), C.dash, "7,3.5");

  const xa = g.append("g").attr("transform", `translate(0,${frames[2][1]})`)
    .call(d3.axisBottom(x).tickValues(monthTicks.map(s => d3.timeParse("%Y-%m-%d")(s)))
      .tickFormat(d3.timeFormat("%Y-%m")).tickSize(0));
  xa.select(".domain").remove();
  xa.selectAll("text").attr("font-family", SANS).attr("font-size", 24).attr("fill", C.tick)
    .attr("y", 0).attr("dy", 0).attr("text-anchor", "end")
    .attr("transform", "translate(-2,33) rotate(-30)");
});
</script>
</body></html>
